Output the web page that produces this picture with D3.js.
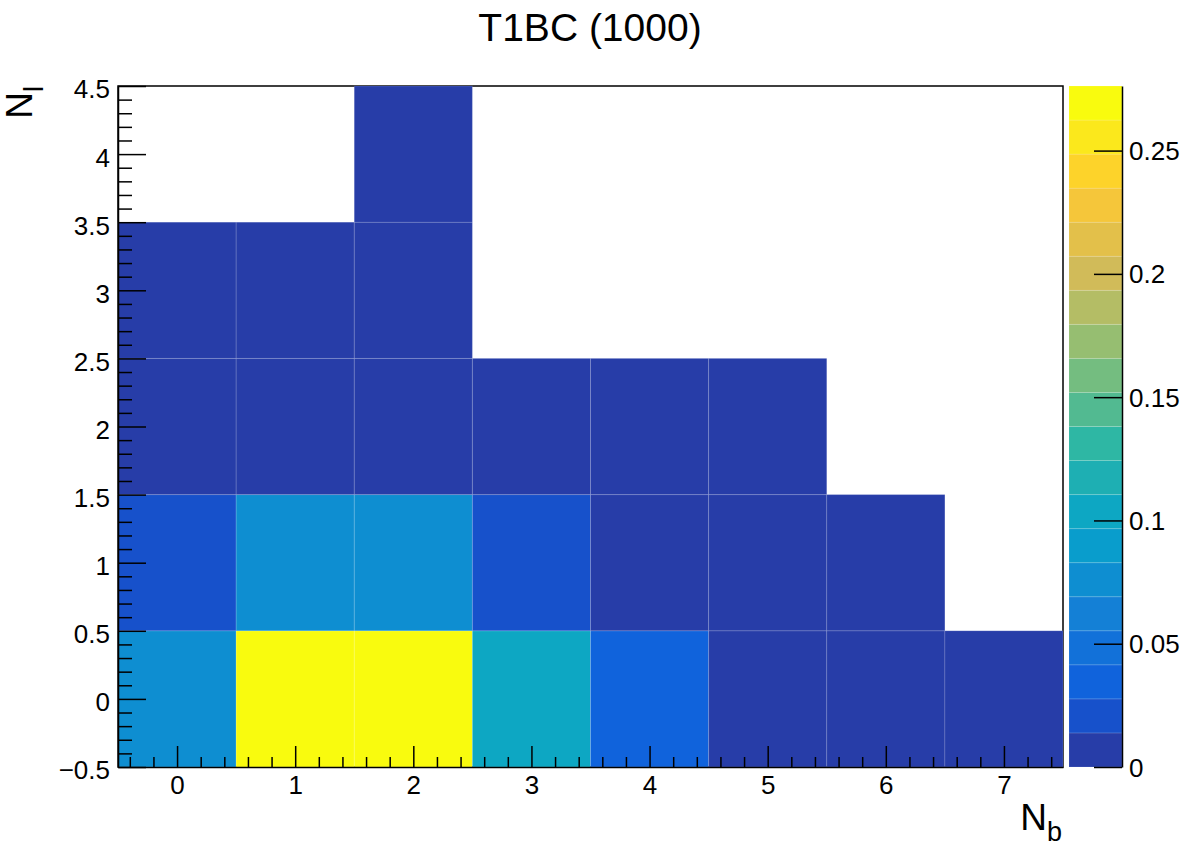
<!DOCTYPE html>
<html>
<head>
<meta charset="utf-8">
<script src="https://cdn.jsdelivr.net/npm/d3@7"></script>
<style>
  body { margin: 0; background: #fff; }
  text { font-family: "Liberation Sans", Arial, Helvetica, sans-serif; }
</style>
</head>
<body>
<div id="chart"></div>
<script>
// 2D histogram N_b vs N_l, COLZ style with the kBird palette

const title = "T1BC (1000)";

// bin centres
const nbBins = [0, 1, 2, 3, 4, 5, 6, 7];
const nlBins = [0, 1, 2, 3, 4];

// bin contents, one row per N_l (0 = empty bin)
const nl0 = [0.076, 0.2762, 0.270, 0.103, 0.034, 0.006, 0.004, 0.003];
const nl1 = [0.021, 0.078, 0.074, 0.019, 0.007, 0.005, 0.003, 0];
const nl2 = [0.006, 0.008, 0.007, 0.004, 0.003, 0.002, 0, 0];
const nl3 = [0.002, 0.003, 0.002, 0, 0, 0, 0, 0];
const nl4 = [0, 0, 0.001, 0, 0, 0, 0, 0];
const rows = [nl0, nl1, nl2, nl3, nl4];

// tick labels
const xTicks = [0, 1, 2, 3, 4, 5, 6, 7];
const yTicks = [-0.5, 0, 0.5, 1, 1.5, 2, 2.5, 3, 3.5, 4, 4.5];
const zTicks = [0, 0.05, 0.1, 0.15, 0.2, 0.25];

const nContours = 20;
const zMax = d3.max(rows.flat());

// kBird palette stops
const birdStops = [0.0, 0.125, 0.25, 0.375, 0.5, 0.625, 0.75, 0.875, 1.0];
const birdR = [0.2082, 0.0592, 0.0780, 0.0232, 0.1802, 0.5301, 0.8186, 0.9956, 0.9764];
const birdG = [0.1664, 0.3599, 0.5041, 0.6419, 0.7178, 0.7492, 0.7328, 0.7862, 0.9832];
const birdB = [0.5293, 0.8684, 0.8385, 0.7914, 0.6425, 0.4662, 0.3499, 0.1968, 0.0539];

const bird = d3.scaleLinear()
  .domain(birdStops)
  .range(birdStops.map((s, i) => d3.rgb(birdR[i] * 255, birdG[i] * 255, birdB[i] * 255)))
  .interpolate(d3.interpolateRgb);

function bandColor(i) {
  const idx = Math.floor((i + 0.99) * 255 / nContours);
  return bird(idx / 254);
}
function binColor(v) {
  const band = Math.min(nContours - 1, Math.floor(v / zMax * nContours));
  return bandColor(band);
}

const W = 1182, H = 853;
const frame = { left: 118, right: 1063, top: 86, bottom: 767 };
const pal = { left: 1069, right: 1122 };
const labelSize = "26px";

const svg = d3.select("#chart").append("svg")
  .attr("width", W)
  .attr("height", H);

const x = d3.scaleLinear().domain([-0.5, 7.5]).range([frame.left, frame.right]);
const y = d3.scaleLinear().domain([-0.5, 4.5]).range([frame.bottom, frame.top]);
const z = d3.scaleLinear().domain([0, zMax]).range([frame.bottom, frame.top]);

// frame
svg.append("rect")
  .attr("x", frame.left)
  .attr("y", frame.top)
  .attr("width", frame.right - frame.left)
  .attr("height", frame.bottom - frame.top)
  .attr("fill", "none")
  .attr("stroke", "#000")
  .attr("stroke-width", 1.5);

// cells
const cells = [];
rows.forEach((row, j) => {
  row.forEach((v, i) => {
    if (v > 0) cells.push({ nb: nbBins[i], nl: nlBins[j], v });
  });
});

svg.append("g").selectAll("rect")
  .data(cells)
  .join("rect")
  .attr("x", d => x(d.nb - 0.5))
  .attr("y", d => y(d.nl + 0.5))
  .attr("width", d => x(d.nb + 0.5) - x(d.nb - 0.5))
  .attr("height", d => y(d.nl - 0.5) - y(d.nl + 0.5))
  .attr("fill", d => binColor(d.v))
  .attr("stroke", "#fff")
  .attr("stroke-opacity", 0.13)
  .attr("stroke-width", 1);

const fmt = d3.format("");

// y axis
const yMinor = d3.range(-5, 46).map(k => k / 10).filter(v => Math.abs(v * 2 - Math.round(v * 2)) > 1e-6);
svg.append("g")
  .attr("transform", `translate(${frame.left},0)`)
  .call(d3.axisLeft(y).tickValues(yMinor).tickSize(-14).tickSizeOuter(0).tickFormat(""))
  .call(g => g.select(".domain").remove());

const yAxis = svg.append("g")
  .attr("transform", `translate(${frame.left},0)`)
  .call(d3.axisLeft(y).tickValues(yTicks).tickSize(-28).tickSizeOuter(0).tickPadding(8).tickFormat(fmt));
yAxis.selectAll("text").attr("dy", "0.46em").style("font-size", labelSize).attr("fill", "#000");

// x axis
const xMinor = d3.range(-2, 38).map(k => k / 5).filter(v => Math.abs(v - Math.round(v)) > 1e-6);
svg.append("g")
  .attr("transform", `translate(0,${frame.bottom})`)
  .call(d3.axisBottom(x).tickValues(xMinor).tickSize(-10).tickSizeOuter(0).tickFormat(""))
  .call(g => g.select(".domain").remove());

const xAxis = svg.append("g")
  .attr("transform", `translate(0,${frame.bottom})`)
  .call(d3.axisBottom(x).tickValues(xTicks).tickSize(-21).tickSizeOuter(0).tickPadding(9).tickFormat(fmt));
xAxis.selectAll("text").style("font-size", labelSize).attr("fill", "#000");

svg.selectAll(".domain, .tick line").attr("stroke", "#000").attr("stroke-width", 1.5);

// palette
svg.append("g").selectAll("rect")
  .data(d3.range(nContours))
  .join("rect")
  .attr("x", pal.left)
  .attr("y", i => z(zMax * (i + 1) / nContours))
  .attr("width", pal.right - pal.left)
  .attr("height", i => z(zMax * i / nContours) - z(zMax * (i + 1) / nContours))
  .attr("fill", i => bandColor(i))
  .attr("stroke", "#fff")
  .attr("stroke-opacity", 0.13)
  .attr("stroke-width", 1);

const zAxis = svg.append("g")
  .attr("transform", `translate(${pal.right},0)`)
  .call(d3.axisRight(z).tickValues(zTicks).tickSize(-28).tickSizeOuter(0).tickPadding(7).tickFormat(fmt));
zAxis.selectAll("text").attr("dy", "0.35em").style("font-size", labelSize).attr("fill", "#000");
zAxis.selectAll(".domain, .tick line").attr("stroke", "#000").attr("stroke-width", 1.5);

// title
svg.append("text")
  .attr("x", 590)
  .attr("y", 41)
  .attr("text-anchor", "middle")
  .style("font-size", "39px")
  .text(title);

// axis titles
const xt = svg.append("text")
  .attr("x", frame.right - 1)
  .attr("y", 830)
  .attr("text-anchor", "end")
  .style("font-size", "37px");
xt.append("tspan").text("N");
xt.append("tspan").attr("dy", 11).style("font-size", "27px").text("b");

const yt = svg.append("text")
  .attr("transform", `translate(32,${frame.top}) rotate(-90)`)
  .attr("text-anchor", "end")
  .style("font-size", "37px");
yt.append("tspan").text("N");
yt.append("tspan").attr("dy", 11).style("font-size", "27px").text("l");
</script>
</body>
</html>
